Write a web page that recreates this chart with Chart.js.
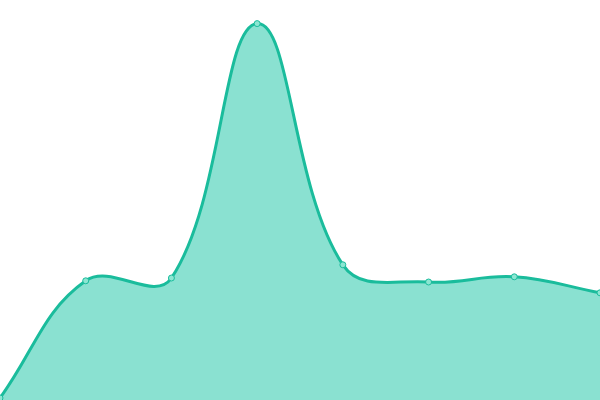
<!DOCTYPE html>
<html>
<head>
  <meta charset="UTF-8">
  <title>area</title>
  <script src="https://cdn.jsdelivr.net/npm/chart.js"></script>
  <style>
    html,body{margin:0;padding:0;background:#fff;}
    .chartBox{width:600px;height:400px;}
  </style>
</head>
<body>
  <div class="chartBox">
    <canvas id="myChart" width="600" height="400"></canvas>
  </div>
  <script>
    //setup
    const labels = ['1', '2', '3', '4', '5', '6', '7', '8'];
    const values = [0.5, 29.8, 30.5, 94.1, 33.8, 29.5, 30.8, 26.8];

    const data = {
      labels: labels,
      datasets: [{
        data: values,
        fill: true,
        backgroundColor: 'rgba(22, 196, 164, 0.5)',
        borderColor: '#1abc9c',
        borderWidth: 3,
        tension: 0.4,
        pointRadius: 3,
        pointBorderWidth: 1,
        pointBackgroundColor: '#8ce6d2',
        pointBorderColor: '#1abc9c'
      }]
    };

    //config
    const config = {
      type: 'line',
      data,
      options: {
        responsive: false,
        animation: false,
        layout: { padding: 0, autoPadding: false },
        scales: {
          x: { display: false, offset: false },
          y: { display: false, min: 0, max: 100 }
        },
        plugins: {
          legend: { display: false },
          tooltip: { enabled: false }
        }
      }
    };

    const myChart = new Chart(document.getElementById('myChart'), config);
  </script>
</body>
</html>
